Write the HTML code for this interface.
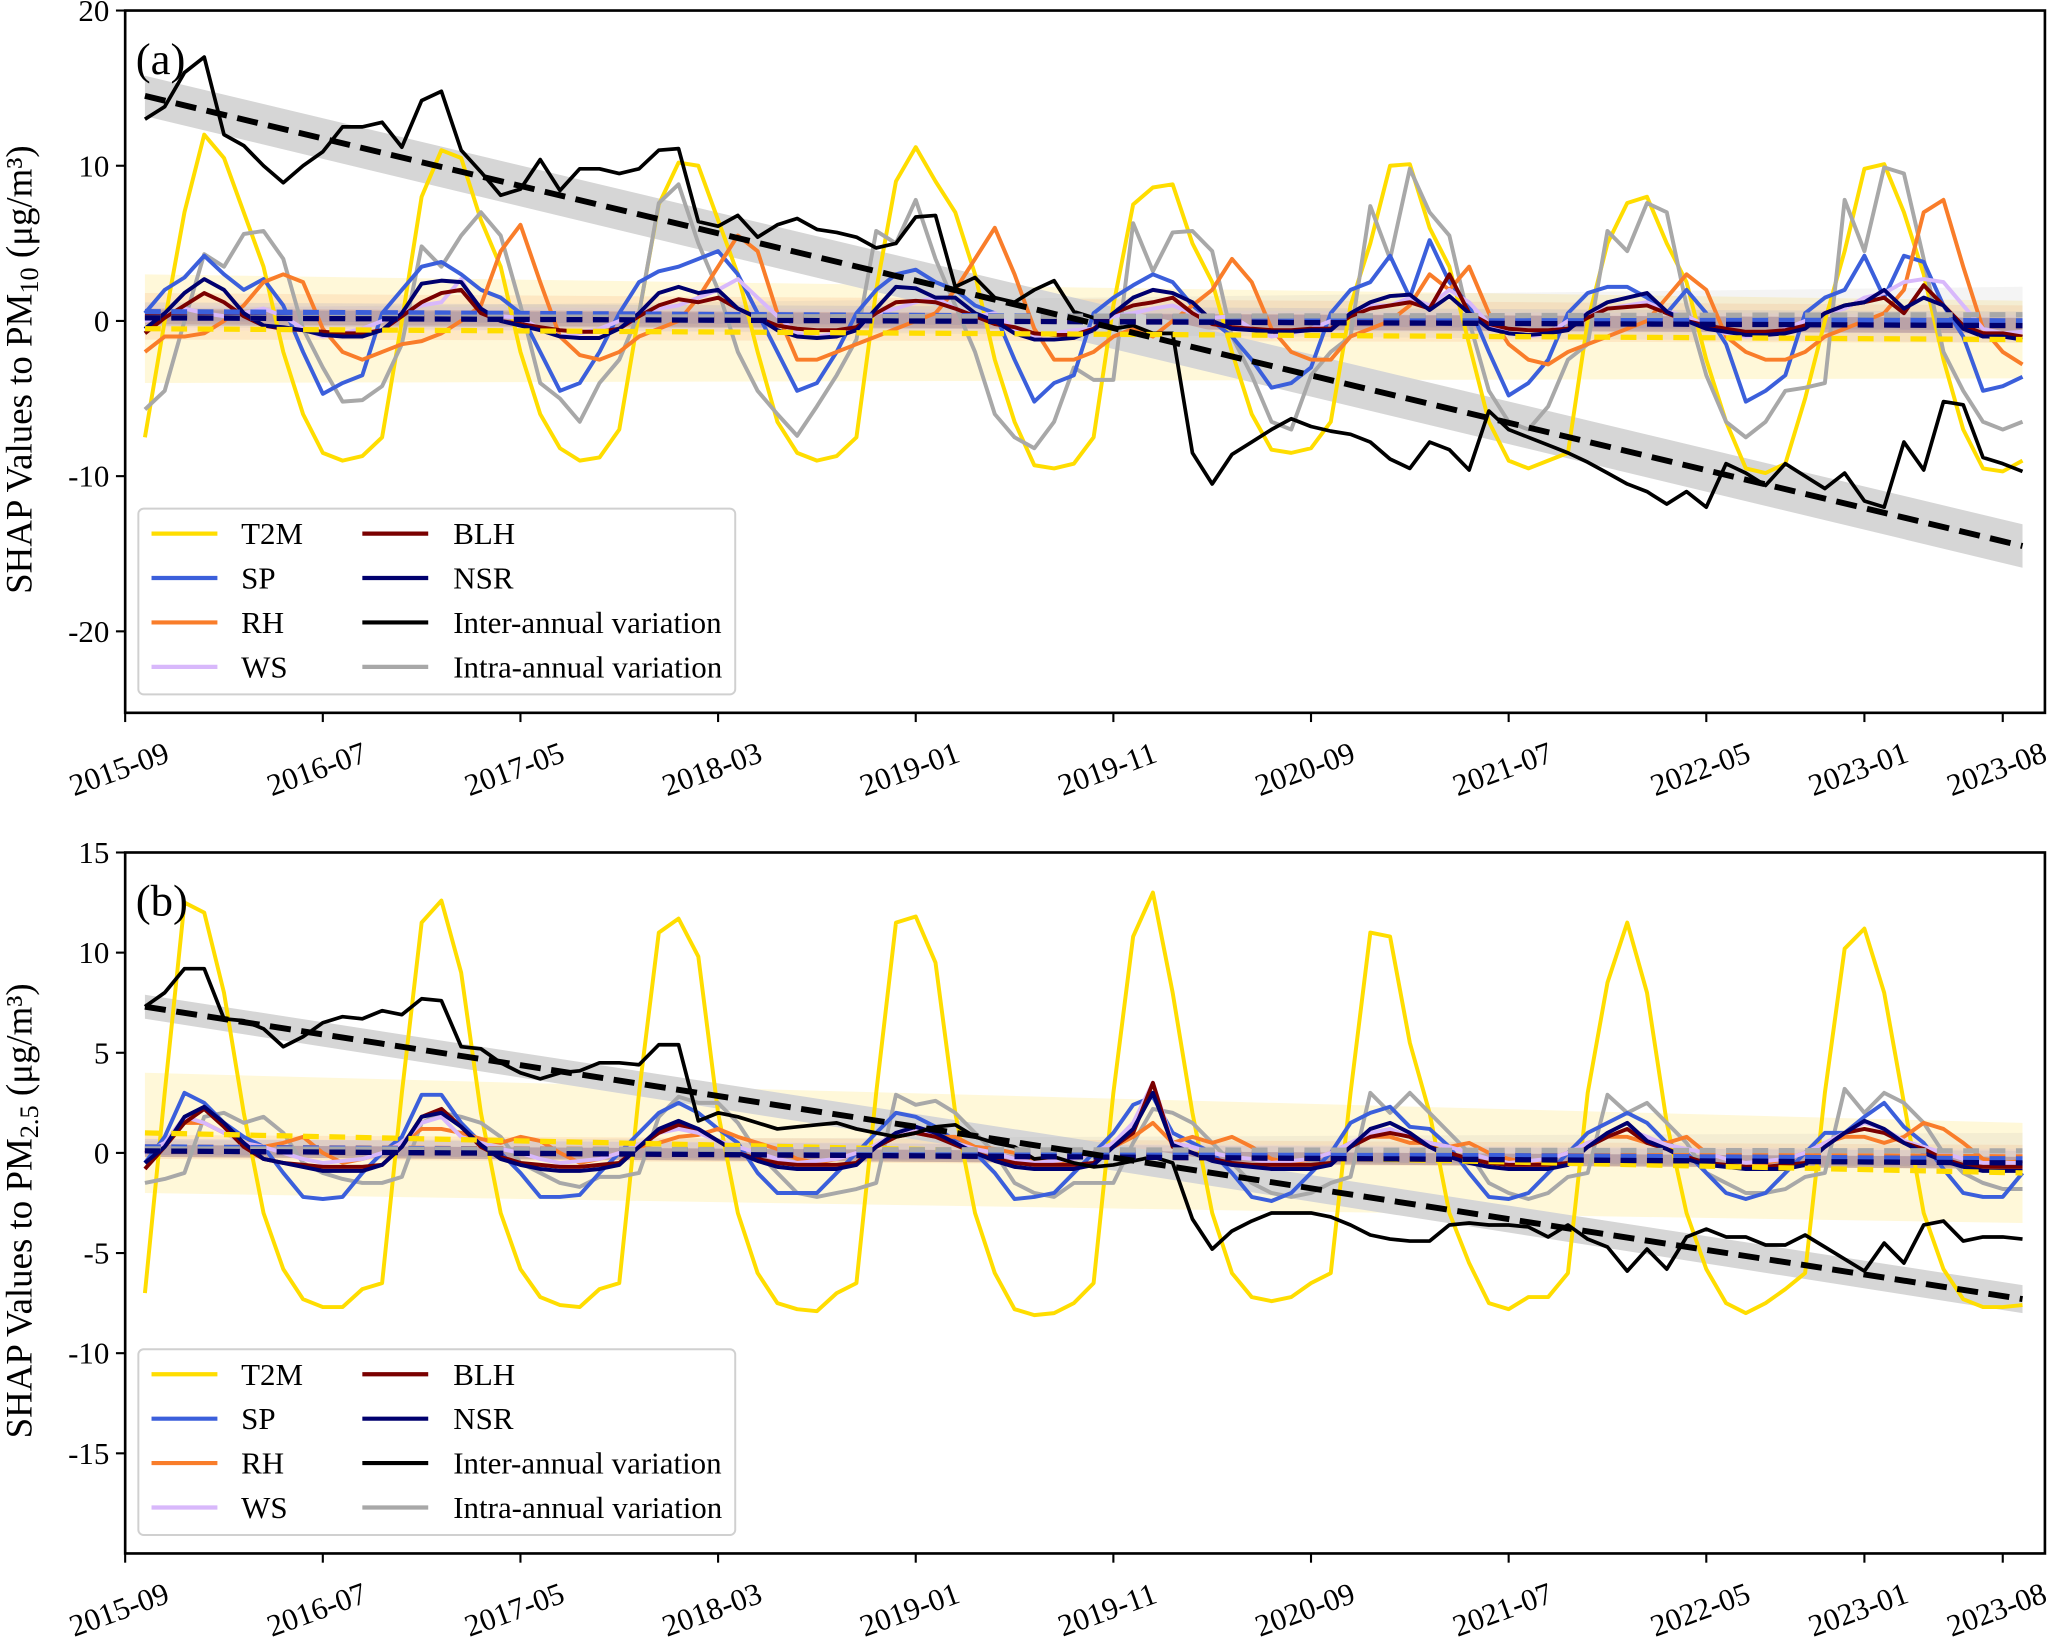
<!DOCTYPE html>
<html><head><meta charset="utf-8"><style>
html,body{margin:0;padding:0;background:#fff}
svg{display:block}
text{font-family:"Liberation Serif",serif;fill:#000}
</style></head><body>
<svg id="chart" width="2066" height="1637" viewBox="0 0 1568 1242.4" preserveAspectRatio="none" xmlns="http://www.w3.org/2000/svg"></svg>
<script>
const tickLabels=["2015-09","2016-07","2017-05","2018-03","2019-01","2019-11","2020-09","2021-07","2022-05","2023-01","2023-08"];
const tickIdx=[0,10,20,30,40,50,60,70,80,88,95];
const seriesNames=["T2M","SP","RH","WS","BLH","NSR","Inter-annual variation","Intra-annual variation"];
const a_t2m=[-7.5,0,7,12,10.5,7,3.5,-2,-6,-8.5,-9,-8.7, -7.5,0,8,11,10.5,6.5,3.5,-2,-6,-8.2,-9,-8.8, -7,0.5,7.5,10.2,10,6.5,3,-2,-6.5,-8.5,-9,-8.7, -7.5,2,9,11.2,9,7,3,-2.5,-6.5,-9.3,-9.5,-9.2, -7.5,1,7.5,8.6,8.8,5,2.5,-2,-6,-8.3,-8.5,-8.2, -6.5,1,5,10,10.1,6,3.5,-1.5,-6.5,-9,-9.5,-9, -8.5,0,5,7.6,8,5,2.5,-2.5,-6.5,-9.5,-9.8,-9.2, -5,0,4.5,9.8,10.1,7,3,-2.5,-7,-9.5,-9.7,-9];
const a_sp=[0.5,2,2.8,4.2,3,2,2.7,1,-2,-4.7,-4,-3.5, 0.5,2,3.5,3.8,3,2,1.5,0.5,-2,-4.5,-4,-2, 0.5,2.5,3.2,3.5,4,4.5,3,0.5,-2,-4.5,-4,-2, 0.5,2,3,3.3,2.5,2,1,0.5,-2.5,-5.2,-4,-3.5, 0.5,1.5,2.3,3,2.5,1,0,-1,-2.5,-4.3,-4,-3, 0.5,2,2.5,4.2,1.5,5.2,2.5,1,-2,-4.8,-4,-2.5, 0.5,1.8,2.2,2.2,1.5,0.5,2,0.5,-1.5,-5.2,-4.5,-3.5, 0.5,1.5,2,4.2,1.5,4.2,3.8,1,-1,-4.5,-4.2,-3.6];
const a_rh=[-2,-1,-1,-0.8,0,1,2.5,3,2.5,-0.5,-2,-2.5, -2,-1.5,-1.3,-0.8,0,1,4.5,6.2,2.5,-1,-2.2,-2.5, -2,-1,-0.5,0,1.5,3.5,5.5,4.5,0.5,-2.5,-2.5,-2, -1.5,-1,-0.5,0,0.5,2,4,6,3,-0.5,-2.5,-2.5, -2,-1,-0.5,-1,0,1,2,4,2.5,-0.5,-2,-2.5, -2.5,-1,-0.5,0,1,3,2,3.5,0.5,-1.5,-2.5,-2.8, -2,-1.5,-1,-0.5,0,1.5,3,2,-1,-2,-2.5,-2.5, -2,-1,-0.5,0,0.5,2,7,7.8,3.5,-0.5,-2,-2.8];
const a_ws=[0,0.3,0.8,0.5,0.3,0.5,0.8,0.3,-0.5,-1,-0.8,-0.5, 0,0.5,1,1.2,2.7,0.5,0.3,0.2,-0.5,-1,-0.8,-0.5, 0,0.5,0.8,1,1.5,2,2.7,1.5,0.3,-0.8,-1,-0.8, -0.5,0.5,0.8,1.2,1.5,0.8,0.3,0.5,-0.5,-1,-0.8,-0.6, -0.5,0.3,0.5,0.8,1,0.5,0.2,0.3,-0.5,-1,-0.8,-0.5, 0,0.5,1,1,1.5,1,2,1.2,-0.2,-0.8,-1,-0.8, 0,0.5,0.8,1,1.2,0.6,0.3,-0.3,-0.8,-1,-0.9,-0.5, 0,0.5,0.8,1.5,1.8,2.5,2.7,2.5,1,-0.5,-0.8,-0.7];
const a_blh=[-0.8,0.2,1,1.8,1.2,0.3,-0.3,-0.5,-0.6,-0.7,-0.8,-0.8, -0.6,0.3,1.2,1.8,2,0.5,0,-0.2,-0.4,-0.6,-0.7,-0.7, -0.5,0.3,1,1.4,1.2,1.5,0.8,0.2,-0.3,-0.5,-0.6,-0.6, -0.4,0.5,1.2,1.3,1.2,0.8,0.3,-0.2,-0.4,-0.8,-0.9,-0.9, -0.5,0.5,1,1.2,1.5,0.5,-0.2,-0.4,-0.5,-0.6,-0.6,-0.5, -0.5,0.3,0.8,1,1.2,0.8,3,0.5,-0.2,-0.5,-0.6,-0.6, -0.5,0.2,0.8,0.9,1,0.5,0,-0.3,-0.5,-0.7,-0.7,-0.6, -0.3,0.5,1,1.2,1.5,0.5,2.3,1,-0.3,-0.8,-0.8,-1];
const a_nsr=[-0.5,0.5,1.8,2.7,2,0.5,-0.3,-0.4,-0.6,-0.9,-1,-1, -0.6,0.5,2.4,2.6,2.5,0.8,0,-0.3,-0.6,-1,-1.1,-1.1, -0.5,0.5,1.8,2.2,1.8,2,0.8,0.2,-0.6,-1,-1.1,-1, -0.6,0.8,2.2,2.1,1.5,1.5,0.5,0,-0.8,-1.2,-1.2,-1.1, -0.6,0.5,1.5,2,1.8,1.2,0,-0.5,-0.6,-0.7,-0.7,-0.6, -0.6,0.5,1.2,1.6,1.7,0.7,1.6,0.5,-0.5,-0.8,-0.9,-0.8, -0.6,0.5,1.2,1.5,1.8,0.6,0,-0.5,-0.7,-0.9,-0.9,-0.8, -0.5,0.5,1,1.2,2,0.8,1.5,1,-0.5,-1,-1,-1.2];
const a_inter=[13,13.8,16,17,12,11.3,10,8.9,10,10.9,12.5,12.5,12.8,11.2,14.2,14.8,11,9.6,8.1,8.5,10.4,8.4,9.8,9.8,9.5,9.8,11,11.1,6.4,6.1,6.8,5.4,6.2,6.6,5.9,5.7,5.4,4.7,5,6.7,6.8,2.2,2.8,1.5,1.2,2,2.6,0.6,0.2,-0.5,-0.3,-0.8,-0.8,-8.5,-10.5,-8.6,-7.8,-7,-6.3,-6.8,-7.1,-7.3,-7.8,-8.9,-9.5,-7.8,-8.3,-9.6,-5.8,-7,-7.5,-8,-8.5,-9.1,-9.8,-10.5,-11,-11.8,-11,-12,-9.2,-9.8,-10.6,-9.2,-10,-10.8,-9.8,-11.6,-12,-7.8,-9.6,-5.2,-5.4,-8.8,-9.2,-9.7];
const a_intra=[-5.7,-4.5,0,4.3,3.5,5.6,5.8,4,-0.5,-3,-5.2,-5.1, -4.2,-1.5,4.8,3.5,5.5,7,5.5,1,-4,-5,-6.5,-4, -2.5,0.5,7.6,8.8,5,2,-2,-4.5,-6,-7.4,-5.5,-3.5, -1.2,5.8,5,7.8,4,1,-2,-6,-7.5,-8.2,-6.5,-3, -3.8,-3.8,6.3,3.2,5.7,5.8,4.5,-1,-3.5,-6.5,-7,-3.5, -2,-1,7.4,4,9.8,7,5.5,0,-4.5,-6.5,-7,-5.5, -2.5,-1.5,5.8,4.5,7.6,7,1,-3.5,-6.5,-7.5,-6.5,-4.5, -4.3,-4,7.8,4.5,9.9,9.5,4,-2,-4.5,-6.5,-7,-6.5];
const b_t2m=[-7,3,12.5,12,8,2,-3,-5.8,-7.3,-7.7,-7.7,-6.8, -6.5,3,11.5,12.6,9,2,-3,-5.8,-7.2,-7.6,-7.7,-6.8, -6.5,3,11,11.7,9.8,2,-3,-6,-7.5,-7.8,-7.9,-7, -6.5,3,11.5,11.8,9.5,2,-3,-6,-7.8,-8.1,-8,-7.5, -6.5,3,10.8,13,8,2,-3,-6,-7.2,-7.4,-7.2,-6.5, -6,3,11,10.8,5.5,2,-3,-5.5,-7.5,-7.8,-7.2,-7.2, -6,3,8.5,11.5,8,1.5,-3,-5.8,-7.5,-8,-7.5,-6.8, -6,3,10.2,11.2,8,2.5,-3,-5.8,-7.3,-7.7,-7.7,-7.6];
const b_sp=[-0.5,0.8,3,2.5,1.5,0.8,0.3,-1,-2.2,-2.3,-2.2,-1, 0,0.8,2.9,2.9,1.5,0.5,0,-1,-2.2,-2.2,-2.1,-1, 0,1,2,2.5,2,1.2,0.5,-1,-2,-2,-2,-1, 0,1,2,1.8,1.3,0.6,0,-1,-2.3,-2.2,-2,-1, 0,1,2.4,2.8,1,0.5,0,-1,-2.2,-2.4,-2,-1, 0,1.5,2,2.3,1.3,1.2,0.3,-1,-2.2,-2.3,-2,-1, 0,1,1.5,2,1.5,0.5,0,-1,-2,-2.3,-2,-1, 0,1,1,1.8,2.5,1.3,0.5,-0.8,-2,-2.2,-2.2,-1];
const b_rh=[0,0.5,1.5,1.5,1,0.5,0.3,0.5,0.8,0,-0.5,-0.3, 0,0.5,1.2,1.2,1,0.7,0.5,0.8,0.6,0,-0.5,-0.3, 0,0.3,0.5,0.8,0.9,1.2,0.8,0.5,0.2,-0.3,-0.5,-0.3, 0,0.3,0.8,1,0.8,0.8,0.3,0.2,0,-0.3,-0.5,-0.3, 0,0.3,0.8,1.5,0.5,0.8,0.5,0.8,0.3,-0.3,-0.5,-0.3, 0,0.5,0.8,0.8,0.5,0.5,0.3,0.5,0,-0.3,-0.5,-0.3, 0,0.5,0.8,0.8,0.5,0.5,0.8,0,-0.3,-0.5,-0.5,-0.3, 0,0.5,0.8,0.8,0.5,0.8,1.5,1.2,0.5,-0.3,-0.5,-0.4];
const b_ws=[0,0.5,1.8,1.5,1,0.5,0.3,0,-0.3,-0.5,-0.4,-0.3, 0,0.5,1.5,1.8,0.8,0.5,0.2,0,-0.3,-0.5,-0.4,-0.3, 0,0.4,1,1.2,1,0.6,0.3,0,-0.3,-0.5,-0.4,-0.3, 0,0.4,1,1.2,0.8,0.5,0.2,0,-0.3,-0.5,-0.4,-0.3, 0,0.5,1.5,3.5,0.5,0.3,0,-0.2,-0.3,-0.5,-0.4,-0.3, 0,0.5,1,1.2,0.8,0.5,0.3,0,-0.3,-0.5,-0.4,-0.3, 0,0.5,0.8,1.2,0.8,0.4,0.2,0,-0.3,-0.5,-0.4,-0.3, 0,0.5,1,1.5,1.2,0.6,0.3,0,-0.3,-0.5,-0.5,-0.5];
const b_blh=[-0.8,0.3,1.5,2.2,1.3,0.3,-0.3,-0.5,-0.6,-0.7,-0.7,-0.7, -0.6,0.3,1.8,2.2,1.3,0.3,-0.2,-0.5,-0.6,-0.7,-0.7,-0.6, -0.5,0.3,1,1.4,1.2,0.6,0,-0.3,-0.5,-0.6,-0.6,-0.6, -0.5,0.3,0.8,1,0.8,0.4,0,-0.3,-0.5,-0.6,-0.6,-0.6, -0.5,0.3,1,3.5,0.3,0,-0.3,-0.5,-0.6,-0.6,-0.6,-0.6, -0.5,0.3,0.8,1,0.8,0.3,0,-0.3,-0.5,-0.6,-0.6,-0.6, -0.5,0.3,0.8,1.2,0.5,0.2,-0.2,-0.5,-0.6,-0.7,-0.7,-0.6, -0.5,0.3,1,1.2,1,0.5,0.2,-0.3,-0.6,-0.7,-0.7,-0.7];
const b_nsr=[-0.5,0.3,1.8,2.3,1.5,0.5,-0.3,-0.5,-0.7,-0.9,-0.9,-0.9, -0.6,0.3,1.8,2,1.3,0.4,-0.3,-0.6,-0.8,-0.9,-0.9,-0.8, -0.6,0.3,1.2,1.6,1.2,0.6,0,-0.4,-0.7,-0.8,-0.8,-0.8, -0.6,0.3,1,1.3,1,0.5,0,-0.4,-0.7,-0.8,-0.8,-0.8, -0.6,0.3,1.2,3,0.4,0,-0.4,-0.6,-0.7,-0.8,-0.8,-0.8, -0.6,0.3,1.2,1.5,1,0.3,-0.2,-0.5,-0.7,-0.8,-0.8,-0.8, -0.6,0.3,1,1.5,0.6,0.2,-0.3,-0.6,-0.7,-0.8,-0.8,-0.8, -0.6,0.3,1,1.6,1.2,0.5,0,-0.4,-0.7,-0.9,-0.9,-0.9];
const b_inter=[7.3,8,9.2,9.2,6.7,6.6,6.2,5.3,5.8,6.5,6.8,6.7,7.1,6.9,7.7,7.6,5.3,5.2,4.5,4,3.7,4,4.1,4.5,4.5,4.4,5.4,5.4,1.6,2,1.8,1.5,1.2,1.3,1.4,1.5,1.2,1,0.8,1,1.3,1.4,0.8,0.5,0.3,-0.3,-0.2,-0.5,-0.7,-0.6,-0.4,-0.2,-0.5,-3.3,-4.8,-3.9,-3.4,-3,-3,-3,-3.2,-3.6,-4.1,-4.3,-4.4,-4.4,-3.6,-3.5,-3.6,-3.6,-3.7,-4.2,-3.6,-4.3,-4.7,-5.9,-4.8,-5.8,-4.2,-3.8,-4.2,-4.2,-4.6,-4.6,-4.1,-4.7,-5.3,-5.9,-4.5,-5.5,-3.6,-3.4,-4.4,-4.2,-4.2,-4.3];
const b_intra=[-1.5,-1.3,-1,1.8,2,1.5,1.8,1,-0.5,-1,-1.3,-1.5, -1.5,-1.2,1.5,2,1.8,1.5,0.8,-0.5,-1,-1.5,-1.7,-1.2, -1.2,-1,1.8,2.8,2.5,2.5,1.5,0,-1,-2,-2.2,-2, -1.8,-1.5,2.9,2.4,2.6,2,1,0,-1.5,-2,-2.2,-1.5, -1.5,-1.5,0.5,2.2,2,1.5,0.5,-0.5,-1.5,-2,-2.2,-2, -1.5,-1.2,3,2,3,2,1,0,-1.5,-2,-2.3,-2, -1.2,-1,2.9,2,2.5,1.5,0.5,-1,-1.5,-2,-2,-1.8, -1.2,-1,3.2,2,3,2.5,1.5,0,-1,-1.5,-1.8,-1.8];
const a_trendStart=[-0.5,0.6,0.3,0.2,0.3,0.2,14.5,0.2];
const a_trendEnd=[-1.2,0,-0.2,-0.2,-0.3,-0.3,-14.5,0.4];
const b_trendStart=[1,0.3,0.3,0.3,0.1,0.1,7.3,0.2];
const b_trendEnd=[-1,-0.3,-0.2,-0.2,-0.5,-0.5,-7.3,0.1];

const NS="http://www.w3.org/2000/svg";
const svg=document.getElementById('chart');
const colors=["#ffdd00","#3b5fdb","#f97d2a","#d8b8fb","#7a0000","#00006e","#000000","#a8a8a8"];
const widths=[3,3,3,3,3,3,2.8,3];
function mk(tag,attrs,parent){const e=document.createElementNS(NS,tag);for(const k in attrs)e.setAttribute(k,attrs[k]);(parent||svg).appendChild(e);return e;}
const X0=95,X1=1552,MX=15;
function xIdx(i){return X0+MX*i;}
function xData(i){return X0+MX*(i+1);}

function panel(id,top,bot,ymin,ymax,yticks,series,tS,tE,label,ylabelSub,legendY,bandW){
  const g=mk('g',{});
  
  
  const y=v=>top+(ymax-v)/(ymax-ymin)*(bot-top);
  const n=96;
  const bands=mk('g',{},g);
  
  
  for(let s=0;s<8;s++){
    const w=bandW[s];
    const x0=xData(0),x1=xData(n-1);
    const pts=[[x0,y(tS[s]+w[0])],[x1,y(tE[s]+w[1])],[x1,y(tE[s]-w[1])],[x0,y(tS[s]-w[0])]];
    const fill=s===6?"#d6d6d6":(s===0?"#fff6d0":colors[s]);
    const op=s===6?1:(s===0?0.8:0.12);
    const p=mk('polygon',{points:pts.map(q=>q.join(',')).join(' '),fill:fill,'fill-opacity':op},bands);
    
    
  }
  const order=[0,7,1,2,3,4,5,6];
  for(const s of order){
    const d=series[s].map((v,i)=>(i?'L':'M')+xData(i).toFixed(1)+','+y(v).toFixed(1)).join('');
    const p=mk('path',{d:d,fill:'none',stroke:colors[s],'stroke-width':widths[s],'stroke-linejoin':'round'},g);
    
    
  }
  for(const s of [0,3,2,4,1,7,5,6]){
    const p=mk('line',{x1:xData(0),y1:y(tS[s]),x2:xData(n-1),y2:y(tE[s]),stroke:colors[s],'stroke-width':s===6?4.5:4,'stroke-dasharray':s===6?'16,8':'12,8'},g);
    
    
  }
  const fr=mk('rect',{x:X0,y:top,width:X1-X0,height:bot-top,fill:'none',stroke:'#000','stroke-width':2},g);
  
  
  yticks.forEach(v=>{
    const t=mk('line',{x1:X0-7,x2:X0,y1:y(v),y2:y(v),stroke:'#000','stroke-width':1.6},g);
    
    
    const tx=mk('text',{x:X0-12,y:y(v)+8,'text-anchor':'end','font-size':23.5},g);
    tx.textContent=String(v);
    
    
  });
  tickIdx.forEach((k,j)=>{
    const xx=xIdx(k);
    const t=mk('line',{x1:xx,x2:xx,y1:bot,y2:bot+7,stroke:'#000','stroke-width':1.6},g);
    
    
    const tx=mk('text',{x:0,y:0,'text-anchor':'middle','font-size':23.5,transform:`translate(${xx-2},${bot+50}) rotate(-20)`},g);
    tx.textContent=tickLabels[j];
    
    
  });
  const pl=mk('text',{x:103,y:top+48,'font-size':34},g);
  pl.textContent=label;
  
  
  const yl=mk('text',{'text-anchor':'middle','font-size':28,transform:`translate(24,${(top+bot)/2+6}) rotate(-90)`},g);
  
  
  const t1=mk('tspan',{},yl);t1.textContent='SHAP Values to PM';
  const t2=mk('tspan',{'font-size':20,dy:5},yl);t2.textContent=ylabelSub;
  const t3=mk('tspan',{dy:-5},yl);t3.textContent=' (μg/m³)';
  const lg=mk('g',{},g);
  
  
  mk('rect',{x:105,y:legendY,width:453,height:141,rx:4,fill:'#fff','fill-opacity':0.85,stroke:'#d0d0d0','stroke-width':1.5},lg);
  for(let s=0;s<8;s++){
    const col=s<4?0:1,row=s%4;
    const lx=col?275:115,ly=legendY+19+row*33.7;
    const e=mk('g',{},lg);
    
    
    mk('line',{x1:lx,x2:lx+50,y1:ly,y2:ly,stroke:colors[s],'stroke-width':3.2},e);
    const tx=mk('text',{x:lx+(col?69:68),y:ly+8,'font-size':23.5},e);
    tx.textContent=seriesNames[s];
  }
}
const bandA=[[3.5,2.5],[0.6,0.6],[1.5,1.2],[0.8,0.6],[0.5,0.5],[0.5,0.5],[1.3,1.4],[0.6,1.8]];
const bandB=[[3,2.5],[0.4,0.4],[0.6,0.6],[0.4,0.4],[0.3,0.3],[0.3,0.3],[0.6,0.7],[0.4,0.9]];
panel('a',8,541,-25.25,20,[20,10,0,-10,-20],[a_t2m,a_sp,a_rh,a_ws,a_blh,a_nsr,a_inter,a_intra],a_trendStart,a_trendEnd,'(a)','10',386,bandA);
panel('b',647,1179,-20,15,[15,10,5,0,-5,-10,-15],[b_t2m,b_sp,b_rh,b_ws,b_blh,b_nsr,b_inter,b_intra],b_trendStart,b_trendEnd,'(b)','2.5',1024,bandB);
</script>
</body></html>
